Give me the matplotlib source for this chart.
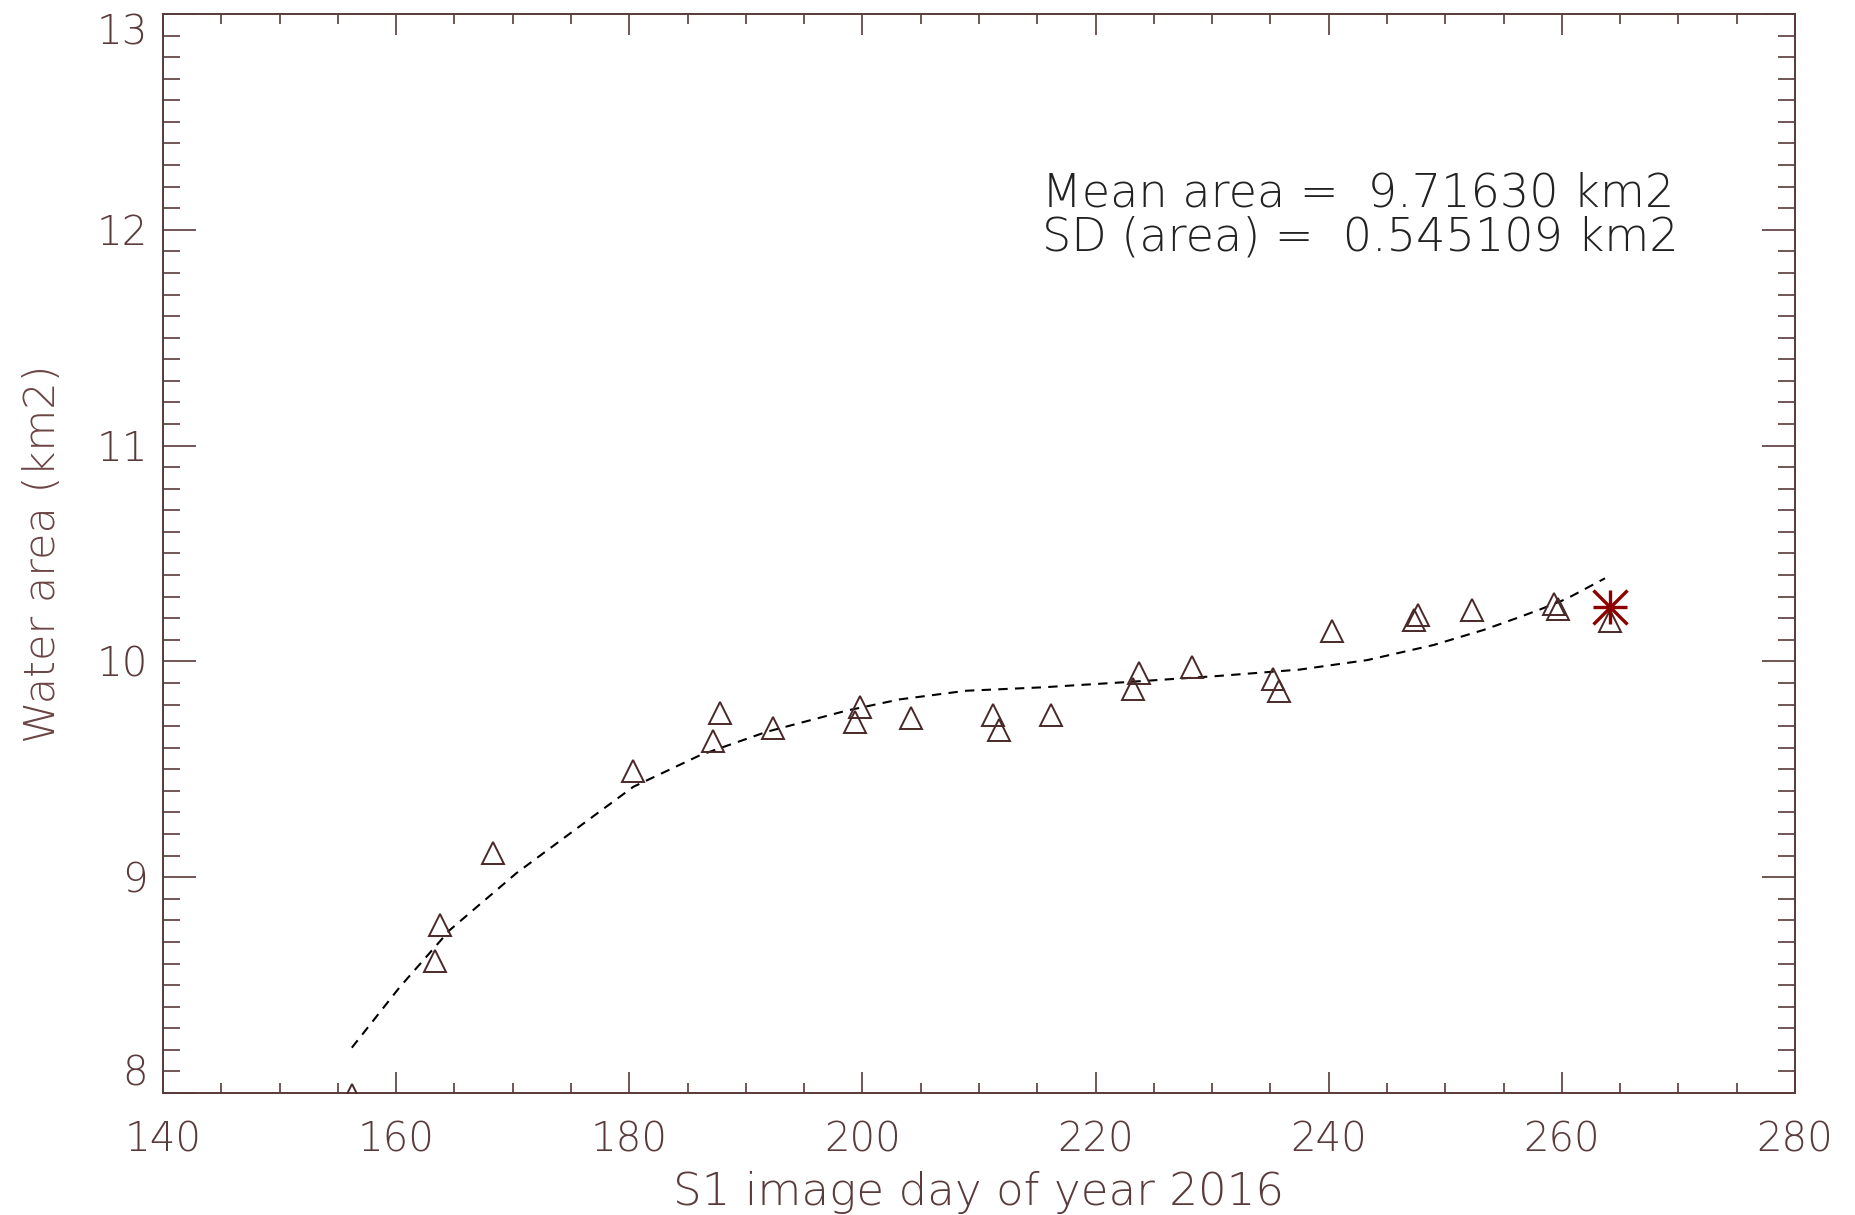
import matplotlib
matplotlib.use("Agg")
import matplotlib.pyplot as plt
from matplotlib.ticker import MultipleLocator

# ---- data ----
obs_day = [156.2, 163.3, 163.8, 168.3, 180.3, 187.2, 187.8, 192.3, 199.4, 199.8,
           204.2, 211.2, 211.7, 216.2, 223.2, 223.7, 228.3, 235.25, 235.7, 240.3,
           247.3, 247.7, 252.3, 259.3, 259.7, 264.1]
obs_area = [7.99, 8.61, 8.78, 9.11, 9.49, 9.63, 9.76, 9.69, 9.72, 9.79,
            9.74, 9.75, 9.68, 9.75, 9.87, 9.945, 9.975, 9.92, 9.865, 10.14,
            10.19, 10.215, 10.24, 10.265, 10.245, 10.185]

fit_day = [156.2, 160.3, 164.6, 170.3, 176.1, 180.35, 186.1, 191.8, 198.65, 203.2,
           208.9, 215.5, 223.2, 230.4, 237.5, 243.3, 249.0, 253.3, 256.1, 258.1,
           260.4, 263.7]
fit_area = [8.21, 8.49, 8.755, 9.018, 9.25, 9.419, 9.566, 9.674, 9.772, 9.824,
            9.864, 9.88, 9.906, 9.932, 9.962, 10.006, 10.076, 10.146, 10.20, 10.24,
            10.29, 10.385]

star_day = [264.1]
star_area = [10.254]

x_ticks = [140, 160, 180, 200, 220, 240, 260, 280]
y_ticks = [8, 9, 10, 11, 12, 13]

mean_text = "Mean area =  9.71630 km2"
sd_text = "SD (area) =  0.545109 km2"

# ---- styling ----
axc = "#5a3a3a"
plt.rcParams["font.family"] = ["DejaVu Sans"]
plt.rcParams["font.weight"] = "light"
plt.rcParams["axes.labelweight"] = "light"

fig = plt.figure(figsize=(18.56, 12.15), dpi=100)
ax = fig.add_axes([0.08782, 0.10041, 0.87931, 0.88807])

ax.plot(fit_day, fit_area, color="black", lw=1.5, linestyle=(0, (4.5, 3.5)), zorder=2)
ax.plot(obs_day, obs_area, linestyle="none", marker="^", markersize=16,
        markerfacecolor="none", markeredgecolor="#4a2828", markeredgewidth=1.4, zorder=3)
ax.plot(star_day, star_area, linestyle="none", marker="+", markersize=24,
        markeredgecolor="#8c0000", markeredgewidth=2.4, zorder=4)
ax.plot(star_day, star_area, linestyle="none", marker="x", markersize=24,
        markeredgecolor="#8c0000", markeredgewidth=2.4, zorder=4)

ax.set_xlim(140, 280)
ax.set_ylim(8, 13)
ax.set_xticks(x_ticks)
ax.set_yticks(y_ticks)
ax.xaxis.set_minor_locator(MultipleLocator(5))
ax.yaxis.set_minor_locator(MultipleLocator(0.1))

for s in ax.spines.values():
    s.set_color(axc)
    s.set_linewidth(1.4)

ax.tick_params(axis="both", which="both", direction="in", top=True, right=True,
               colors=axc, width=1.2)
ax.tick_params(axis="x", which="major", length=15, pad=20, labelsize=29)
ax.tick_params(axis="x", which="minor", length=7.5)
ax.tick_params(axis="y", which="major", length=24, pad=11, labelsize=29)
ax.tick_params(axis="y", which="minor", length=12)

for lab in ax.get_xticklabels() + ax.get_yticklabels():
    lab.set_fontweight("light")

yt = ax.yaxis.get_major_ticks()
yt[0].label1.set_va("bottom")
yt[-1].label1.set_va("top")

ax.set_xlabel("S1 image day of year 2016", fontsize=32.5, color=axc, fontweight="light")
ax.xaxis.set_label_coords(0.5, -0.1038)
ax.xaxis.label.set_va("baseline")

ax.set_ylabel("Water area (km2)", fontsize=31, color="#6b4444", fontweight="light")
ax.yaxis.set_label_coords(-0.0738, 0.5)
ax.yaxis.label.set_rotation_mode("default")
ax.yaxis.label.set_va("center")
ax.yaxis.label.set_ha("center")

ax.text(215.4, 12.106, mean_text, fontsize=33.2, color="#222222", va="baseline",
        ha="left", fontweight="light")
ax.text(215.4, 11.902, sd_text, fontsize=33.2, color="#222222", va="baseline",
        ha="left", fontweight="light")

fig.savefig("out.png", dpi=100, facecolor="white")
